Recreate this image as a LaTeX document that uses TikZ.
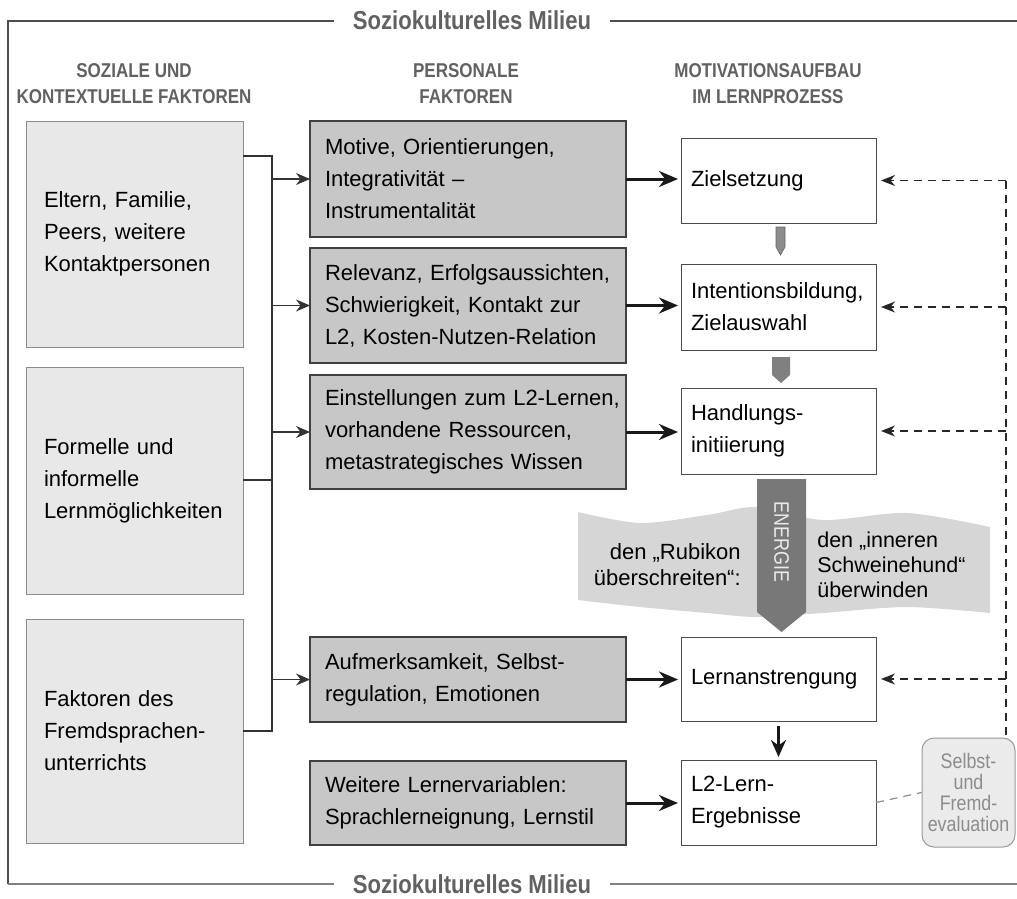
\documentclass[tikz,border=0pt]{standalone}
\usepackage{fontspec}
\setmainfont{Liberation Sans}
\newfontfamily\condfont{Liberation Sans}[FakeStretch=0.85]
\usetikzlibrary{positioning, arrows.meta, calc}

\definecolor{leftgray}{gray}{0.91}
\definecolor{persgray}{gray}{0.78}
\definecolor{wavegray}{gray}{0.84}
\definecolor{energygray}{gray}{0.47}
\definecolor{headgray}{gray}{0.38}
\definecolor{evalgray}{gray}{0.55}

\newcommand{\boxfont}{\fontsize{22}{32}\selectfont}
\newcommand{\headfont}{\condfont\bfseries\fontsize{20}{26}\selectfont}

\begin{document}
\begin{tikzpicture}[x=1pt, y=1pt, semithick]
    \tikzstyle{leftbox}=[draw=black!45, fill=leftgray, line width=1pt, outer sep=0pt, minimum width=217pt, text width=181pt, inner xsep=18pt, align=left, font=\boxfont]
    \tikzstyle{persbox}=[draw=black!75, fill=persgray, line width=1.2pt, outer sep=0pt, minimum width=316pt, text width=286pt, inner xsep=15pt, align=left, font=\boxfont]
    \tikzstyle{motbox}=[draw=black!70, fill=white, line width=1pt, outer sep=0pt, minimum width=195pt, text width=175pt, inner xsep=10pt, align=left, font=\boxfont]
    \tikzstyle{headtext}=[text=headgray, align=center, font=\headfont]
    \tikzstyle{milieu}=[text=headgray, fill=white, inner xsep=19pt, font=\condfont\bfseries\fontsize{26}{30}\selectfont]
    \tikzstyle{wavetext}=[font=\fontsize{22}{26}\selectfont, inner sep=0pt]
    \tikzstyle{busline}=[draw=black!80, line width=1.2pt]
    \tikzstyle{busarrow}=[busline, -{Stealth[length=14pt,width=12pt]}]
    \tikzstyle{fwdarrow}=[draw=black!90, line width=3pt, shorten >=3pt, -{Stealth[length=19pt,width=16pt]}]
    \tikzstyle{fbarrow}=[draw=black!85, line width=1.3pt, dash pattern=on 8pt off 6pt, shorten >=5pt, -{Stealth[length=14pt,width=11pt]}]
    \tikzstyle{fbline}=[draw=black!85, line width=1.3pt, dash pattern=on 8pt off 6pt]
    \useasboundingbox (0,0) rectangle (1017,-899);

    % frame
    \node[milieu] (topT) at (472,-20) {Soziokulturelles Milieu};
    \node[milieu] (botT) at (472,-884) {Soziokulturelles Milieu};
    \coordinate (tl) at (8,-21);
    \coordinate (bl) at (8,-884);
    \draw[black!70, line width=1.6pt] (topT.west |- tl) -- (tl) -- (bl);
    \draw[black!70, line width=1.6pt] (topT.east |- tl) -- (1017,-21);
    \draw[black!50, line width=1.6pt] (bl) -- (botT.west |- bl);
    \draw[black!50, line width=1.6pt] (botT.east |- bl) -- (1017,-884);

    % headers
    \node[headtext] (h1) at (134,-84) {SOZIALE UND\\KONTEXTUELLE FAKTOREN};
    \node[headtext] (h2) at (466,-84) {PERSONALE\\FAKTOREN};
    \node[headtext] (h3) at (768,-84) {MOTIVATIONSAUFBAU\\IM LERNPROZESS};

    % left column
    \node[leftbox, minimum height=226pt] (L1) at (134.5,-234) {Eltern, Familie,\\Peers, weitere\\Kontaktpersonen};
    \node[leftbox, minimum height=227pt] (L2) [below=20pt of L1] {Formelle und\\informelle\\Lernmöglichkeiten};
    \node[leftbox, minimum height=224pt] (L3) [below=25pt of L2] {Faktoren des\\Fremdsprachen-\\unterrichts};

    % middle column
    \node[persbox, minimum height=116pt] (M1) at (468,-179) {Motive, Orientierungen,\\Integrativität –\\Instrumentalität};
    \node[persbox, minimum height=115pt] (M2) [below=11pt of M1] {\mbox{Relevanz, Erfolgsaussichten,}\\Schwierigkeit, Kontakt zur\\L2, Kosten-Nutzen-Relation};
    \node[persbox, minimum height=114pt] (M3) [below=12pt of M2] {\mbox{Einstellungen zum L2-Lernen,}\\vorhandene Ressourcen,\\metastrategisches Wissen};
    \node[persbox, minimum height=85pt] (M4) [below=148pt of M3] {Aufmerksamkeit, Selbst-\\regulation, Emotionen};
    \node[persbox, minimum height=84pt] (M5) [below=39pt of M4] {Weitere Lernervariablen:\\Sprachlerneignung, Lernstil};

    % wave band
    \fill[wavegray] plot[smooth] coordinates {(578,-512) (640,-523) (707,-515) (757,-507) (823,-520) (907,-513) (990,-527)}
        -- plot[smooth] coordinates {(990,-613) (907,-607) (823,-613) (757,-617) (707,-613) (640,-607) (578,-600)} -- cycle;

    % right column
    \node[motbox, minimum height=85pt] (R1) at (778.5,-180.5) {Zielsetzung};
    \node[motbox, minimum height=86pt] (R2) [below=41pt of R1] {\mbox{Intentionsbildung,}\\Zielauswahl};
    \node[motbox, minimum height=86pt] (R3) [below=38pt of R2] {Handlungs-\\initiierung};
    \node[motbox, minimum height=84pt] (R4) [below=163pt of R3] {Lernanstrengung};
    \node[motbox, minimum height=85pt] (R5) [below=39pt of R4] {L2-Lern-\\Ergebnisse};

    \node[draw=black!40, fill=black!8, rounded corners=12pt, line width=1pt, minimum width=93pt, minimum height=109pt, inner sep=2pt,
          align=center, text=evalgray, font=\condfont\fontsize{21}{21}\selectfont] (S) at (968.5,-792.5) {Selbst-\\und\\Fremd-\\evaluation};

    % block arrows between the steps
    \fill[black!45, draw=black!60, line width=0.6pt] ($(R1.south)+(-2.5,-4)$) -- ($(R1.south)+(6.5,-4)$) -- ($(R2.north)+(6.5,17)$) -- ($(R2.north)+(2,9)$) -- ($(R2.north)+(-2.5,17)$) -- cycle;
    \fill[black!50] ($(R2.south)+(-6.5,-7)$) -- ($(R2.south)+(11.5,-7)$) -- ($(R3.north)+(11.5,13)$) -- ($(R3.north)+(2.5,5)$) -- ($(R3.north)+(-6.5,13)$) -- cycle;
    \fill[energygray] ($(R3.south)+(-21.5,-5)$) -- ($(R3.south)+(27.5,-5)$) -- ($(R4.north)+(27.5,25)$) -- ($(R4.north)+(3,5)$) -- ($(R4.north)+(-21.5,25)$) -- cycle;
    \node[rotate=-90, text=black!8, font=\condfont\fontsize{21}{21}\selectfont] (en) at (781.5,-542) {ENERGIE};
    \node[wavetext, anchor=east, align=right] (rub) at (741,-565) {den „Rubikon\\überschreiten“:};
    \node[wavetext, anchor=west, align=left, font=\fontsize{21.5}{25}\selectfont] (hund) at (817,-565) {den „inneren\\Schweinehund“\\überwinden};
    \draw[black!90, line width=3.5pt, -{Stealth[length=17pt,width=15pt]}] ([yshift=-5pt]R4.south) -- ([yshift=3pt]R5.north);

    % bus from the left column
    \coordinate (b1) at (272,-156);
    \coordinate (b2) at (272,-480);
    \coordinate (b3) at (272,-731);
    \draw[busline] (L1.east |- b1) -- (b1) -- (b3) -- (L3.east |- b3);
    \draw[busline] (L2.east |- b2) -- (b2);
    \foreach \m in {M1,M2,M3,M4}
        \draw[busarrow] (b1 |- \m.west) -- (\m.west);

    % personal factors into the steps
    \foreach \m/\r in {M1/R1,M2/R2,M3/R3,M4/R4,M5/R5}
        \draw[fwdarrow] (\m.east) -- (\m.east -| \r.west);

    % feedback
    \path (R1.east) ++(130,0) coordinate (fb);
    \draw[fbline] (fb) -- (fb |- S.north);
    \foreach \r in {R1,R2,R3,R4}
        \draw[fbarrow] (fb |- \r.east) -- (\r.east);
    \draw[black!45, line width=1.2pt, dash pattern=on 8pt off 6pt] (R5.east) -- (S.west);
\end{tikzpicture}
\end{document}
